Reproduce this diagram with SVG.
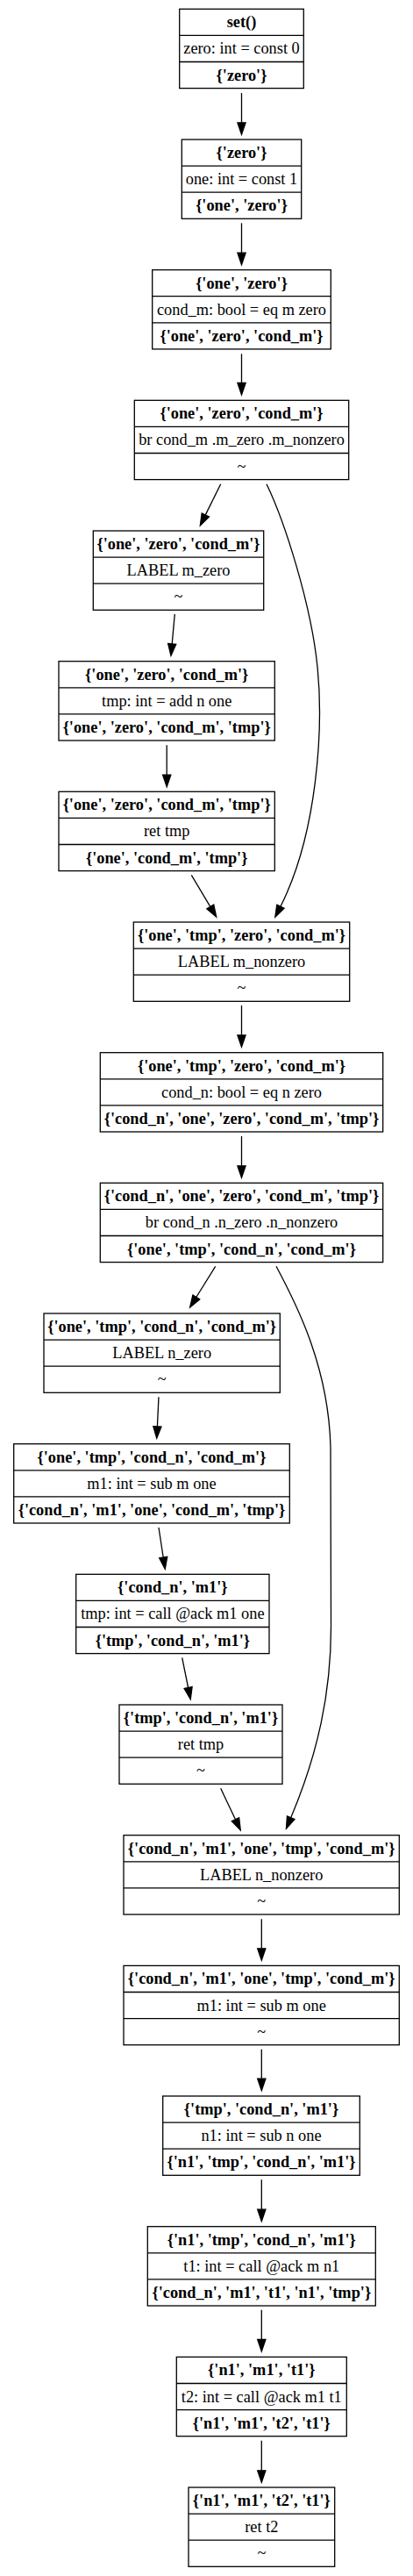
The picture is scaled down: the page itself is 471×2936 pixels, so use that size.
<svg xmlns="http://www.w3.org/2000/svg" width="471" height="2936" viewBox="0 0 471 2936">
<style>
.box{fill:#fff;stroke:#000;stroke-width:1.3}
.div{stroke:#000;stroke-width:1.3}
text{font-family:"Liberation Serif","Times New Roman",serif;font-size:18.33px;text-anchor:middle;fill:#000}
.b{font-weight:bold}
.edge{fill:none;stroke:#000;stroke-width:1.3;marker-end:url(#ah)}
</style>
<defs>
<marker id="ah" markerUnits="userSpaceOnUse" markerWidth="15" markerHeight="12" refX="0" refY="0" orient="auto" viewBox="0 -6 15 12" overflow="visible">
<path d="M0,-4.6 L13.5,0 L0,4.6 Z" fill="#000" stroke="#000" stroke-width="1.3"/>
</marker>
</defs>
<rect x="0" y="0" width="471" height="2936" fill="#fff"/>
<g id="edges">
<path class="edge" d="M275.5,106 L275.5,139.8"/>
<path class="edge" d="M275.5,254.3 L275.5,288.2"/>
<path class="edge" d="M275.5,403.3 L275.5,436.5"/>
<path class="edge" d="M251.7,551.7 L234.3,586.9"/>
<path class="edge" d="M304,551.7 C325,595 355,690 362,760 C369,830 362,950 319.9,1033.2"/>
<path class="edge" d="M199.3,700 L196.2,733.9"/>
<path class="edge" d="M190.2,849.3 L190.2,883.2"/>
<path class="edge" d="M218.3,997.3 L239.8,1033.4"/>
<path class="edge" d="M275.5,1146 L275.5,1179.8"/>
<path class="edge" d="M275.5,1295 L275.5,1328.8"/>
<path class="edge" d="M245.7,1443.3 L223.8,1478.5"/>
<path class="edge" d="M315,1443.3 C340,1490 375,1560 377,1650 L377.5,1850 C378,1930 362,2000 331.7,2071.7"/>
<path class="edge" d="M181,1592.3 L179.4,1625.8"/>
<path class="edge" d="M181,1741 L186.2,1775"/>
<path class="edge" d="M207.7,1889.3 L214.6,1923.5"/>
<path class="edge" d="M251.7,2038.3 L268.5,2073.8"/>
<path class="edge" d="M298.3,2187.3 L298.3,2220.8"/>
<path class="edge" d="M298.3,2335.7 L298.3,2369.2"/>
<path class="edge" d="M298.3,2484.3 L298.3,2518.2"/>
<path class="edge" d="M298.3,2632.7 L298.3,2666.5"/>
<path class="edge" d="M298.3,2781.7 L298.3,2815.8"/>
</g>
<g id="n1">
<rect class="box" x="204.7" y="10.3" width="141.6" height="90.3"/>
<path class="div" d="M204.7,40.4 H346.3 M204.7,70.5 H346.3"/>
<text class="b" x="275.5" y="31.3">set()</text>
<text x="275.5" y="61.4">zero: int = const 0</text>
<text class="b" x="275.5" y="91.5">{'zero'}</text>
</g>
<g id="n2">
<rect class="box" x="207.3" y="159" width="136.4" height="90.3"/>
<path class="div" d="M207.3,189.1 H343.7 M207.3,219.2 H343.7"/>
<text class="b" x="275.5" y="180">{'zero'}</text>
<text x="275.5" y="210.1">one: int = const 1</text>
<text class="b" x="275.5" y="240.2">{'one', 'zero'}</text>
</g>
<g id="n3">
<rect class="box" x="173.7" y="307.6" width="203.6" height="90.3"/>
<path class="div" d="M173.7,337.7 H377.3 M173.7,367.8 H377.3"/>
<text class="b" x="275.5" y="328.6">{'one', 'zero'}</text>
<text x="275.5" y="358.7">cond_m: bool = eq m zero</text>
<text class="b" x="275.5" y="388.8">{'one', 'zero', 'cond_m'}</text>
</g>
<g id="n4">
<rect class="box" x="153.3" y="456.3" width="244.4" height="90.3"/>
<path class="div" d="M153.3,486.4 H397.7 M153.3,516.5 H397.7"/>
<text class="b" x="275.5" y="477.3">{'one', 'zero', 'cond_m'}</text>
<text x="275.5" y="507.4">br cond_m .m_zero .m_nonzero</text>
<text x="275.5" y="537.5">~</text>
</g>
<g id="n5">
<rect class="box" x="106.3" y="605" width="194.4" height="90.3"/>
<path class="div" d="M106.3,635.1 H300.7 M106.3,665.2 H300.7"/>
<text class="b" x="203.5" y="626">{'one', 'zero', 'cond_m'}</text>
<text x="203.5" y="656.1">LABEL m_zero</text>
<text x="203.5" y="686.2">~</text>
</g>
<g id="n6">
<rect class="box" x="67" y="753.7" width="246.3" height="90.3"/>
<path class="div" d="M67,783.8 H313.3 M67,813.9 H313.3"/>
<text class="b" x="190.2" y="774.7">{'one', 'zero', 'cond_m'}</text>
<text x="190.2" y="804.8">tmp: int = add n one</text>
<text class="b" x="190.2" y="834.9">{'one', 'zero', 'cond_m', 'tmp'}</text>
</g>
<g id="n7">
<rect class="box" x="67" y="902.3" width="246.3" height="90.3"/>
<path class="div" d="M67,932.4 H313.3 M67,962.5 H313.3"/>
<text class="b" x="190.2" y="923.3">{'one', 'zero', 'cond_m', 'tmp'}</text>
<text x="190.2" y="953.4">ret tmp</text>
<text class="b" x="190.2" y="983.5">{'one', 'cond_m', 'tmp'}</text>
</g>
<g id="n8">
<rect class="box" x="152.3" y="1051" width="246.4" height="90.3"/>
<path class="div" d="M152.3,1081.1 H398.7 M152.3,1111.2 H398.7"/>
<text class="b" x="275.5" y="1072">{'one', 'tmp', 'zero', 'cond_m'}</text>
<text x="275.5" y="1102.1">LABEL m_nonzero</text>
<text x="275.5" y="1132.2">~</text>
</g>
<g id="n9">
<rect class="box" x="114.3" y="1199.7" width="322.4" height="90.3"/>
<path class="div" d="M114.3,1229.8 H436.7 M114.3,1259.9 H436.7"/>
<text class="b" x="275.5" y="1220.7">{'one', 'tmp', 'zero', 'cond_m'}</text>
<text x="275.5" y="1250.8">cond_n: bool = eq n zero</text>
<text class="b" x="275.5" y="1280.9">{'cond_n', 'one', 'zero', 'cond_m', 'tmp'}</text>
</g>
<g id="n10">
<rect class="box" x="114.3" y="1348.3" width="322.4" height="90.3"/>
<path class="div" d="M114.3,1378.4 H436.7 M114.3,1408.5 H436.7"/>
<text class="b" x="275.5" y="1369.3">{'cond_n', 'one', 'zero', 'cond_m', 'tmp'}</text>
<text x="275.5" y="1399.4">br cond_n .n_zero .n_nonzero</text>
<text class="b" x="275.5" y="1429.5">{'one', 'tmp', 'cond_n', 'cond_m'}</text>
</g>
<g id="n11">
<rect class="box" x="50" y="1497" width="269.3" height="90.3"/>
<path class="div" d="M50,1527.1 H319.3 M50,1557.2 H319.3"/>
<text class="b" x="184.65" y="1518">{'one', 'tmp', 'cond_n', 'cond_m'}</text>
<text x="184.65" y="1548.1">LABEL n_zero</text>
<text x="184.65" y="1578.2">~</text>
</g>
<g id="n12">
<rect class="box" x="15.7" y="1645.7" width="314.6" height="90.3"/>
<path class="div" d="M15.7,1675.8 H330.3 M15.7,1705.9 H330.3"/>
<text class="b" x="173" y="1666.7">{'one', 'tmp', 'cond_n', 'cond_m'}</text>
<text x="173" y="1696.8">m1: int = sub m one</text>
<text class="b" x="173" y="1726.9">{'cond_n', 'm1', 'one', 'cond_m', 'tmp'}</text>
</g>
<g id="n13">
<rect class="box" x="86.7" y="1794.3" width="220.3" height="90.3"/>
<path class="div" d="M86.7,1824.4 H307 M86.7,1854.5 H307"/>
<text class="b" x="196.85" y="1815.3">{'cond_n', 'm1'}</text>
<text x="196.85" y="1845.4">tmp: int = call @ack m1 one</text>
<text class="b" x="196.85" y="1875.5">{'tmp', 'cond_n', 'm1'}</text>
</g>
<g id="n14">
<rect class="box" x="136" y="1943" width="186" height="90.3"/>
<path class="div" d="M136,1973.1 H322 M136,2003.2 H322"/>
<text class="b" x="229" y="1964">{'tmp', 'cond_n', 'm1'}</text>
<text x="229" y="1994.1">ret tmp</text>
<text x="229" y="2024.2">~</text>
</g>
<g id="n15">
<rect class="box" x="141" y="2091.7" width="314.3" height="90.3"/>
<path class="div" d="M141,2121.8 H455.3 M141,2151.9 H455.3"/>
<text class="b" x="298.15" y="2112.7">{'cond_n', 'm1', 'one', 'tmp', 'cond_m'}</text>
<text x="298.15" y="2142.8">LABEL n_nonzero</text>
<text x="298.15" y="2172.9">~</text>
</g>
<g id="n16">
<rect class="box" x="141" y="2240.4" width="314.3" height="90.3"/>
<path class="div" d="M141,2270.5 H455.3 M141,2300.6 H455.3"/>
<text class="b" x="298.15" y="2261.4">{'cond_n', 'm1', 'one', 'tmp', 'cond_m'}</text>
<text x="298.15" y="2291.5">m1: int = sub m one</text>
<text x="298.15" y="2321.6">~</text>
</g>
<g id="n17">
<rect class="box" x="185.7" y="2389" width="224.6" height="90.3"/>
<path class="div" d="M185.7,2419.1 H410.3 M185.7,2449.2 H410.3"/>
<text class="b" x="298" y="2410">{'tmp', 'cond_n', 'm1'}</text>
<text x="298" y="2440.1">n1: int = sub n one</text>
<text class="b" x="298" y="2470.2">{'n1', 'tmp', 'cond_n', 'm1'}</text>
</g>
<g id="n18">
<rect class="box" x="168.3" y="2537.7" width="260" height="90.3"/>
<path class="div" d="M168.3,2567.8 H428.3 M168.3,2597.9 H428.3"/>
<text class="b" x="298.3" y="2558.7">{'n1', 'tmp', 'cond_n', 'm1'}</text>
<text x="298.3" y="2588.8">t1: int = call @ack m n1</text>
<text class="b" x="298.3" y="2618.9">{'cond_n', 'm1', 't1', 'n1', 'tmp'}</text>
</g>
<g id="n19">
<rect class="box" x="201.3" y="2686.4" width="194" height="90.3"/>
<path class="div" d="M201.3,2716.5 H395.3 M201.3,2746.6 H395.3"/>
<text class="b" x="298.3" y="2707.4">{'n1', 'm1', 't1'}</text>
<text x="298.3" y="2737.5">t2: int = call @ack m1 t1</text>
<text class="b" x="298.3" y="2767.6">{'n1', 'm1', 't2', 't1'}</text>
</g>
<g id="n20">
<rect class="box" x="215" y="2835" width="166.7" height="90.3"/>
<path class="div" d="M215,2865.1 H381.7 M215,2895.2 H381.7"/>
<text class="b" x="298.35" y="2856">{'n1', 'm1', 't2', 't1'}</text>
<text x="298.35" y="2886.1">ret t2</text>
<text x="298.35" y="2916.2">~</text>
</g>
</svg>
